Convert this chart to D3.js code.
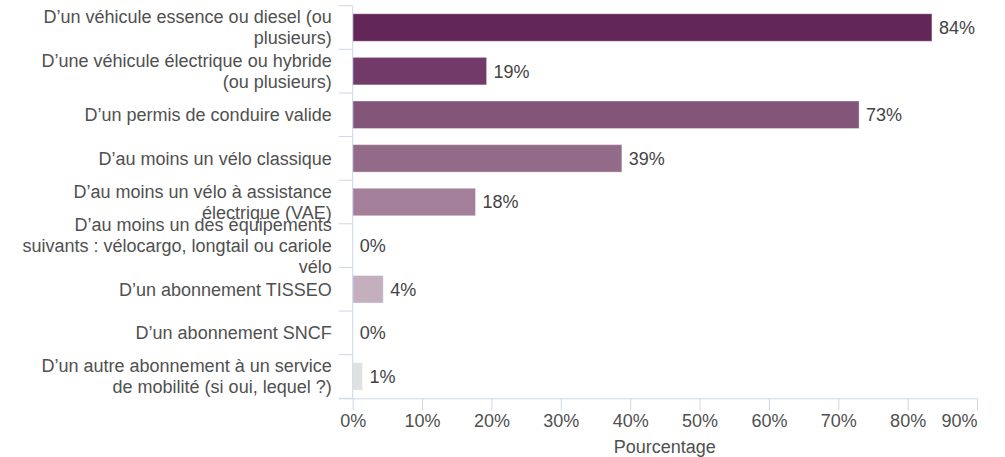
<!DOCTYPE html>
<html>
<head>
<meta charset="utf-8">
<script src="https://cdn.jsdelivr.net/npm/d3@7"></script>
<style>
  html, body { margin: 0; padding: 0; background: #fff; }
  svg { display: block; font-family: "Liberation Sans", Arial, sans-serif; }
</style>
</head>
<body>
<svg id="chart" width="1005" height="457"></svg>
<script>
// ---- data ----
const categories = [
  "D’un véhicule essence ou diesel (ou plusieurs)",
  "D’une véhicule électrique ou hybride (ou plusieurs)",
  "D’un permis de conduire valide",
  "D’au moins un vélo classique",
  "D’au moins un vélo à assistance électrique (VAE)",
  "D’au moins un des équipements suivants : vélocargo, longtail ou cariole vélo",
  "D’un abonnement TISSEO",
  "D’un abonnement SNCF",
  "D’un autre abonnement à un service de mobilité (si oui, lequel ?)"
];
const values = [83.5, 19.3, 73.0, 38.8, 17.7, 0, 4.4, 0, 1.4];
const barColors = ["#632659", "#723a69", "#835578", "#926b89", "#a37f99", "#b497ad", "#c4afbf", "#d4c8d0", "#e0e0e0"];
const xTicks = [0, 10, 20, 30, 40, 50, 60, 70, 80, 90];
const xTitle = "Pourcentage";

// ---- layout ----
const mLeft = 352.7, mRight = 977, mTop = 5.7, mBottom = 398.3;
const fontSize = 18;
const textColor = "#505050";
const axisColor = "#ccd6eb";

const svg = d3.select("#chart");

const x = d3.scaleLinear().domain([0, 90]).range([mLeft, mRight]);
const y = d3.scaleBand().domain(categories).range([mTop, mBottom]).padding(0);
const barH = y.bandwidth() * 0.63;
const barOff = (y.bandwidth() - barH) / 2;

// bars
svg.append("g").selectAll("rect")
  .data(categories)
  .join("rect")
  .attr("x", x(0))
  .attr("y", d => y(d) + barOff)
  .attr("width", (d, i) => Math.max(0, x(values[i]) - x(0)))
  .attr("height", barH)
  .attr("fill", (d, i) => barColors[i])
  .attr("stroke", (d, i) => values[i] > 0 ? "#ffffff" : "none")
  .attr("stroke-width", 1)
  .attr("stroke-opacity", 0.35);

// data labels
svg.append("g").selectAll("text")
  .data(categories)
  .join("text")
  .attr("x", (d, i) => x(values[i]) + 7)
  .attr("y", d => y(d) + y.bandwidth() / 2)
  .attr("dy", "0.36em")
  .attr("font-size", fontSize)
  .attr("fill", "#444")
  .text((d, i) => Math.round(values[i]) + "%");

// category axis (labels)
const yAxis = svg.append("g")
  .attr("transform", `translate(${mLeft},0)`)
  .call(d3.axisLeft(y).tickSize(0).tickPadding(21));
yAxis.select(".domain").remove();
yAxis.selectAll("text")
  .attr("font-size", fontSize)
  .attr("fill", textColor)
  .attr("font-family", "Liberation Sans, Arial, sans-serif");

// wrap labels
const maxW = 314, lineH = 21;
yAxis.selectAll(".tick text").each(function() {
  const t = d3.select(this);
  const words = t.text().split(/\s+/);
  const xPos = t.attr("x");
  t.text(null);
  const lines = [];
  let line = [];
  const probe = t.append("tspan");
  for (const w of words) {
    line.push(w);
    probe.text(line.join(" "));
    if (probe.node().getComputedTextLength() > maxW && line.length > 1) {
      line.pop();
      lines.push(line.join(" "));
      line = [w];
    }
  }
  lines.push(line.join(" "));
  probe.remove();
  const n = lines.length;
  t.attr("dy", null);
  lines.forEach((l, k) => {
    t.append("tspan")
      .attr("x", xPos)
      .attr("y", 0)
      .attr("dy", ((k - (n - 1) / 2) * lineH + fontSize * 0.36) + "px")
      .text(l);
  });
});

// category axis line and boundary ticks
const bounds = categories.map(c => y(c)).concat([mBottom]);
svg.append("line")
  .attr("x1", mLeft).attr("x2", mLeft)
  .attr("y1", mTop).attr("y2", mBottom)
  .attr("stroke", axisColor).attr("stroke-width", 1);
svg.append("g").selectAll("line")
  .data(bounds)
  .join("line")
  .attr("x1", mLeft - 14).attr("x2", mLeft)
  .attr("y1", d => d).attr("y2", d => d)
  .attr("stroke", axisColor).attr("stroke-width", 1);

// value axis
const xAxis = svg.append("g")
  .attr("transform", `translate(0,${mBottom})`)
  .call(d3.axisBottom(x).tickValues(xTicks).tickFormat(d => d + "%").tickSize(12).tickPadding(4));
xAxis.select(".domain").attr("stroke", axisColor).attr("d", `M${mLeft - 14},0.5H${mRight}`);
xAxis.selectAll(".tick line").attr("stroke", axisColor);
xAxis.selectAll(".tick text")
  .attr("font-size", fontSize)
  .attr("fill", textColor)
  .attr("font-family", "Liberation Sans, Arial, sans-serif");
xAxis.selectAll(".tick text").filter(d => d === 90).attr("text-anchor", "end");

// axis title
svg.append("text")
  .attr("x", (mLeft + mRight) / 2)
  .attr("y", 453)
  .attr("text-anchor", "middle")
  .attr("font-size", fontSize)
  .attr("fill", textColor)
  .text(xTitle);
</script>
</body>
</html>
